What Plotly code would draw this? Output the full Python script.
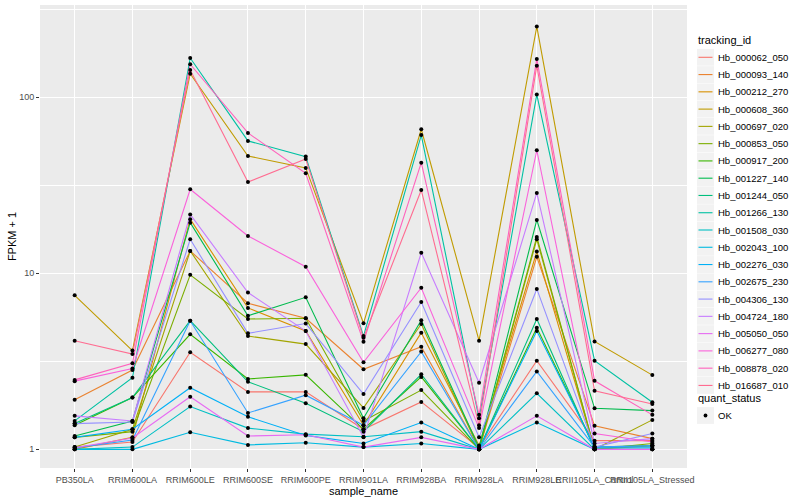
import plotly.graph_objects as go

samples = ["PB350LA", "RRIM600LA", "RRIM600LE", "RRIM600SE", "RRIM600PE",
           "RRIM901LA", "RRIM928BA", "RRIM928LA", "RRIM928LE",
           "RRII105LA_Control", "RRII105LA_Stressed"]

tracking_ids = ["Hb_000062_050", "Hb_000093_140", "Hb_000212_270", "Hb_000608_360",
                "Hb_000697_020", "Hb_000853_050", "Hb_000917_200", "Hb_001227_140",
                "Hb_001244_050", "Hb_001266_130", "Hb_001508_030", "Hb_002043_100",
                "Hb_002276_030", "Hb_002675_230", "Hb_004306_130", "Hb_004724_180",
                "Hb_005050_050", "Hb_006277_080", "Hb_008878_020", "Hb_016687_010"]

# FPKM + 1 values, one list per tracking_id (order follows samples)
hb_000062_050 = [1.03, 1.10, 3.56, 2.12, 2.12, 1.30, 1.86, 1.02, 3.19, 1.12, 1.12]
hb_000093_140 = [1.91, 2.82, 13.4, 6.76, 5.55, 2.85, 3.83, 1.00, 12.4, 1.36, 1.15]
hb_000212_270 = [1.00, 1.17, 20.3, 6.36, 4.70, 1.37, 4.60, 1.05, 13.3, 1.00, 1.05]
hb_000608_360 = [7.50, 3.64, 136, 46.4, 39.7, 5.20, 65.8, 4.14, 252, 4.10, 2.64]
hb_000697_020 = [1.03, 1.30, 13.4, 4.40, 3.96, 1.72, 5.15, 1.00, 15.6, 1.00, 1.47]
hb_000853_050 = [1.17, 1.26, 9.80, 5.50, 5.55, 1.45, 2.17, 1.00, 16.1, 1.00, 1.08]
hb_000917_200 = [1.37, 1.97, 4.50, 2.51, 2.65, 1.30, 2.58, 1.00, 4.90, 1.03, 1.05]
hb_001227_140 = [1.19, 1.45, 19.4, 5.74, 7.30, 1.50, 5.41, 1.02, 20.1, 1.71, 1.66]
hb_001244_050 = [1.40, 1.97, 5.38, 2.42, 1.83, 1.26, 2.67, 1.00, 5.50, 1.00, 1.00]
hb_001266_130 = [1.45, 2.55, 167, 56.5, 46.0, 4.40, 61.0, 1.50, 103.5, 3.19, 1.85]
hb_001508_030 = [1.00, 1.03, 1.75, 1.32, 1.22, 1.18, 1.26, 1.00, 2.08, 1.00, 1.00]
hb_002043_100 = [1.00, 1.00, 1.25, 1.06, 1.09, 1.03, 1.08, 1.00, 1.42, 1.00, 1.00]
hb_002276_030 = [1.17, 1.30, 2.24, 1.53, 1.20, 1.08, 1.42, 1.00, 4.70, 1.03, 1.03]
hb_002675_230 = [1.02, 1.13, 5.38, 1.61, 2.03, 1.37, 3.59, 1.00, 2.77, 1.03, 1.05]
hb_004306_130 = [1.40, 1.43, 15.6, 4.56, 5.18, 2.06, 6.87, 1.17, 8.15, 1.03, 1.23]
hb_004724_180 = [1.55, 1.45, 21.6, 7.77, 4.70, 1.17, 13.1, 2.39, 28.6, 1.08, 1.15]
hb_005050_050 = [1.02, 1.16, 1.99, 1.19, 1.21, 1.03, 1.17, 1.00, 1.55, 1.00, 1.00]
hb_006277_080 = [2.44, 2.88, 30.0, 16.3, 10.9, 3.12, 8.28, 1.32, 50.0, 1.23, 1.10]
hb_008878_020 = [2.48, 3.08, 154, 62.7, 37.0, 4.08, 42.5, 1.57, 165, 2.45, 1.57]
hb_016687_010 = [4.14, 3.48, 143, 33.0, 44.6, 4.30, 29.7, 1.37, 151, 2.15, 1.81]

series_values = [hb_000062_050, hb_000093_140, hb_000212_270, hb_000608_360,
                 hb_000697_020, hb_000853_050, hb_000917_200, hb_001227_140,
                 hb_001244_050, hb_001266_130, hb_001508_030, hb_002043_100,
                 hb_002276_030, hb_002675_230, hb_004306_130, hb_004724_180,
                 hb_005050_050, hb_006277_080, hb_008878_020, hb_016687_010]

status_label = "OK"

colors = ["#F8766D", "#EA8331", "#D89000", "#C09B00", "#A3A500", "#7CAE00",
          "#39B600", "#00BB4E", "#00BF7D", "#00C1A3", "#00BFC4", "#00BAE0",
          "#00B0F6", "#35A2FF", "#9590FF", "#C77CFF", "#E76BF3", "#FA62DB",
          "#FF62BC", "#FF6C91"]

W, H = 800, 500
PL, PR, PT, PB = 40, 687, 5, 468   # plot panel in pixels


def px_x(p):
    return (p - PL) / (PR - PL)


def px_y(p):
    return (PB - p) / (PB - PT)


fig = go.Figure()
for tid, vals, col in zip(tracking_ids, series_values, colors):
    fig.add_trace(go.Scatter(
        x=samples, y=vals, mode="lines", name=tid, showlegend=False,
        line=dict(color=col, width=1.1)))

all_x = [s for vals in series_values for s in samples]
all_y = [v for vals in series_values for v in vals]
fig.add_trace(go.Scatter(
    x=all_x, y=all_y, mode="markers", name=status_label, showlegend=False,
    marker=dict(color="black", size=4, symbol="circle")))

font_family = "Liberation Sans, Arial, sans-serif"

# ---- manual ggplot-style legend ----
shapes = []
annotations = []
annotations.append(dict(text="tracking_id", x=px_x(696), y=px_y(40), xref="paper", yref="paper",
                        xanchor="left", yanchor="middle", showarrow=False,
                        font=dict(size=11, color="black", family=font_family)))
step = 17.27
for i, (tid, col) in enumerate(zip(tracking_ids, colors)):
    cy = 57.3 + step * i
    shapes.append(dict(type="rect", xref="paper", yref="paper",
                       x0=px_x(697), x1=px_x(714), y0=px_y(cy - 8.4), y1=px_y(cy + 8.4),
                       fillcolor="#F2F2F2", line=dict(width=0), layer="above"))
    shapes.append(dict(type="line", xref="paper", yref="paper",
                       x0=px_x(698.5), x1=px_x(712.5), y0=px_y(cy), y1=px_y(cy),
                       line=dict(color=col, width=1.1), layer="above"))
    annotations.append(dict(text=tid, x=px_x(716), y=px_y(cy), xref="paper", yref="paper",
                            xanchor="left", yanchor="middle", showarrow=False,
                            font=dict(size=9.5, color="black", family=font_family)))

annotations.append(dict(text="quant_status", x=px_x(696), y=px_y(398), xref="paper", yref="paper",
                        xanchor="left", yanchor="middle", showarrow=False,
                        font=dict(size=11, color="black", family=font_family)))
ok_y = 415.5
shapes.append(dict(type="rect", xref="paper", yref="paper",
                   x0=px_x(697), x1=px_x(714), y0=px_y(ok_y - 8.4), y1=px_y(ok_y + 8.4),
                   fillcolor="#F2F2F2", line=dict(width=0), layer="above"))
shapes.append(dict(type="circle", xref="paper", yref="paper",
                   x0=px_x(703.6), x1=px_x(707.4), y0=px_y(ok_y - 1.9), y1=px_y(ok_y + 1.9),
                   fillcolor="black", line=dict(width=0), layer="above"))
annotations.append(dict(text=status_label, x=px_x(716), y=px_y(ok_y), xref="paper", yref="paper",
                        xanchor="left", yanchor="middle", showarrow=False,
                        font=dict(size=9.5, color="black", family=font_family)))

fig.update_layout(
    width=W, height=H,
    margin=dict(l=PL, r=W - PR, t=PT, b=H - PB, autoexpand=False),
    paper_bgcolor="white", plot_bgcolor="#EBEBEB",
    font=dict(family=font_family, size=9, color="#4D4D4D"),
    showlegend=False,
    shapes=shapes,
    annotations=annotations,
    xaxis=dict(
        type="category", categoryorder="array", categoryarray=samples,
        range=[-0.6, 10.6], showgrid=True, gridcolor="white", gridwidth=1.1,
        ticks="outside", ticklen=3, tickcolor="#333333", tickwidth=1,
        tickangle=0, automargin=False,
        tickfont=dict(size=9, color="#4D4D4D"), zeroline=False, showline=False,
        title=dict(text="sample_name", font=dict(size=11, color="black"), standoff=0),
    ),
    yaxis=dict(
        type="log", range=[-0.106, 2.524], automargin=False,
        tickmode="array", tickvals=[1, 10, 100], ticktext=["1", "10", "100"],
        showgrid=True, gridcolor="white", gridwidth=1.1,
        minor=dict(tickmode="array", tickvals=[10 ** 0.5, 10 ** 1.5, 10 ** 2.5],
                   showgrid=True, gridcolor="white", gridwidth=0.5, ticks=""),
        ticks="outside", ticklen=3, tickcolor="#333333", tickwidth=1,
        tickfont=dict(size=9, color="#4D4D4D"), zeroline=False, showline=False,
        title=dict(text="FPKM + 1", font=dict(size=11, color="black"), standoff=0),
    ),
)

fig.write_html("out.html", config={"displayModeBar": False},
               post_script="document.body.style.margin='0px';")
